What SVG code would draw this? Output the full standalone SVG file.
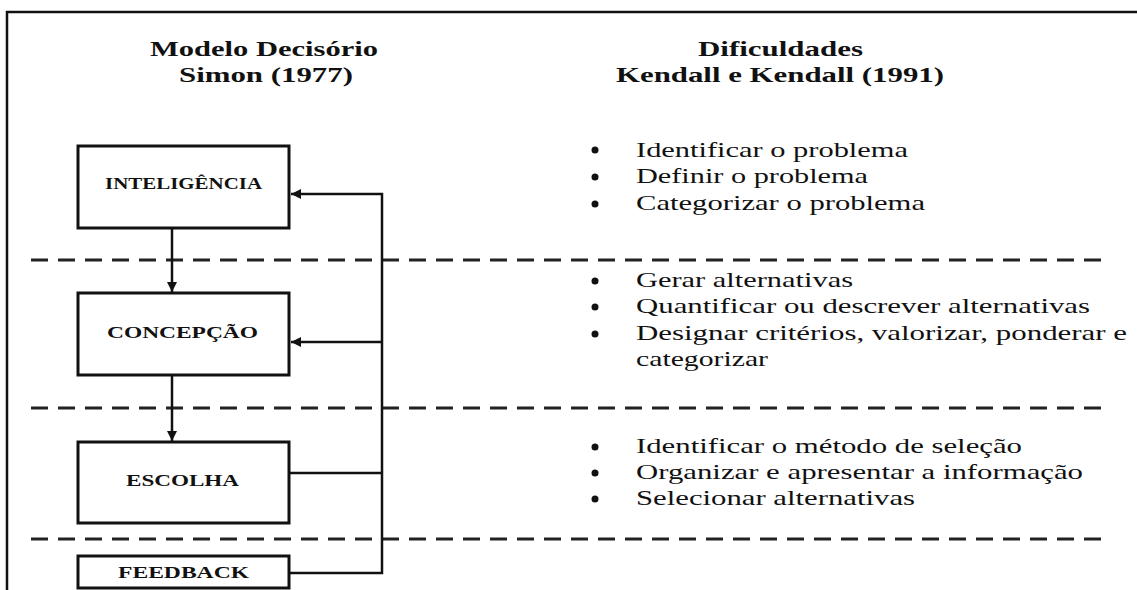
<svg xmlns="http://www.w3.org/2000/svg" width="1137" height="590" viewBox="0 0 1137 590">
<style>
.frame{fill:none;stroke:#111;stroke-width:2.5}
.box{fill:#fff;stroke:#111;stroke-width:3}
.dash{stroke:#222;stroke-width:3;stroke-dasharray:17 10;fill:none}
.conn{stroke:#111;stroke-width:2.5;fill:none}
.title{font-family:"Liberation Serif","Times New Roman",serif;font-weight:bold;font-size:22px;fill:#111}
.lbl{font-family:"Liberation Serif","Times New Roman",serif;font-weight:bold;font-size:16px;fill:#111}
.item{font-family:"Liberation Serif","Times New Roman",serif;font-size:21px;fill:#111}
.bul{fill:#111}
</style>
<defs>
<marker id="ah" viewBox="0 0 10 10" refX="10" refY="5" markerWidth="10" markerHeight="10" markerUnits="userSpaceOnUse" orient="auto">
<path d="M0,0 L10,5 L0,10 z" fill="#111"/>
</marker>
</defs>
<rect width="1137" height="590" fill="#fff"/>
<path class="frame" d="M7,591 L7,12 L1138,12"/>

<g id="separators">
<line class="dash" x1="31" y1="260" x2="1108" y2="260"/>
<line class="dash" x1="31" y1="408" x2="1108" y2="408"/>
<line class="dash" x1="31" y1="539" x2="1108" y2="539"/>
</g>

<g id="titles">
<text class="title" x="150" y="56" textLength="228" lengthAdjust="spacingAndGlyphs">Modelo Decisório</text>
<text class="title" x="179" y="82" textLength="174" lengthAdjust="spacingAndGlyphs">Simon (1977)</text>
<text class="title" x="698" y="56" textLength="165" lengthAdjust="spacingAndGlyphs">Dificuldades</text>
<text class="title" x="616" y="82" textLength="328" lengthAdjust="spacingAndGlyphs">Kendall e Kendall (1991)</text>
</g>

<g id="connectors">
<line class="conn" x1="172" y1="228" x2="172" y2="292" marker-end="url(#ah)"/>
<line class="conn" x1="172" y1="375" x2="172" y2="441" marker-end="url(#ah)"/>
<path class="conn" d="M289,573 L382,573 L382,194 L291,194" marker-end="url(#ah)"/>
<line class="conn" x1="382" y1="342" x2="291" y2="342" marker-end="url(#ah)"/>
<line class="conn" x1="289" y1="473" x2="382" y2="473"/>
</g>

<g id="inteligencia">
<rect class="box" x="78" y="146" width="211" height="82"/>
<text class="lbl" x="105" y="189" textLength="157" lengthAdjust="spacingAndGlyphs">INTELIGÊNCIA</text>
</g>
<g id="concepcao">
<rect class="box" x="78" y="293" width="211" height="82"/>
<text class="lbl" x="107" y="338" textLength="151" lengthAdjust="spacingAndGlyphs">CONCEPÇÃO</text>
</g>
<g id="escolha">
<rect class="box" x="78" y="442" width="211" height="81"/>
<text class="lbl" x="126" y="486" textLength="113" lengthAdjust="spacingAndGlyphs">ESCOLHA</text>
</g>
<g id="feedback">
<rect class="box" x="78" y="556" width="211" height="32"/>
<text class="lbl" x="118" y="578" textLength="131" lengthAdjust="spacingAndGlyphs">FEEDBACK</text>
</g>

<g id="dificuldades-inteligencia">
<circle class="bul" cx="595" cy="150" r="3.5"/>
<circle class="bul" cx="595" cy="177" r="3.5"/>
<circle class="bul" cx="595" cy="204" r="3.5"/>
<text class="item" x="636" y="157" textLength="272" lengthAdjust="spacingAndGlyphs">Identificar o problema</text>
<text class="item" x="636" y="183" textLength="232" lengthAdjust="spacingAndGlyphs">Definir o problema</text>
<text class="item" x="636" y="210" textLength="289" lengthAdjust="spacingAndGlyphs">Categorizar o problema</text>
</g>

<g id="dificuldades-concepcao">
<circle class="bul" cx="595" cy="281" r="3.5"/>
<circle class="bul" cx="595" cy="307" r="3.5"/>
<circle class="bul" cx="595" cy="334" r="3.5"/>
<text class="item" x="636" y="287" textLength="217" lengthAdjust="spacingAndGlyphs">Gerar alternativas</text>
<text class="item" x="636" y="313" textLength="454" lengthAdjust="spacingAndGlyphs">Quantificar ou descrever alternativas</text>
<text class="item" x="636" y="340" textLength="491" lengthAdjust="spacingAndGlyphs">Designar critérios, valorizar, ponderar e</text>
<text class="item" x="636" y="366" textLength="132" lengthAdjust="spacingAndGlyphs">categorizar</text>
</g>

<g id="dificuldades-escolha">
<circle class="bul" cx="595" cy="447" r="3.5"/>
<circle class="bul" cx="595" cy="473" r="3.5"/>
<circle class="bul" cx="595" cy="499" r="3.5"/>
<text class="item" x="636" y="453" textLength="386" lengthAdjust="spacingAndGlyphs">Identificar o método de seleção</text>
<text class="item" x="636" y="479" textLength="447" lengthAdjust="spacingAndGlyphs">Organizar e apresentar a informação</text>
<text class="item" x="636" y="505" textLength="279" lengthAdjust="spacingAndGlyphs">Selecionar alternativas</text>
</g>
</svg>
